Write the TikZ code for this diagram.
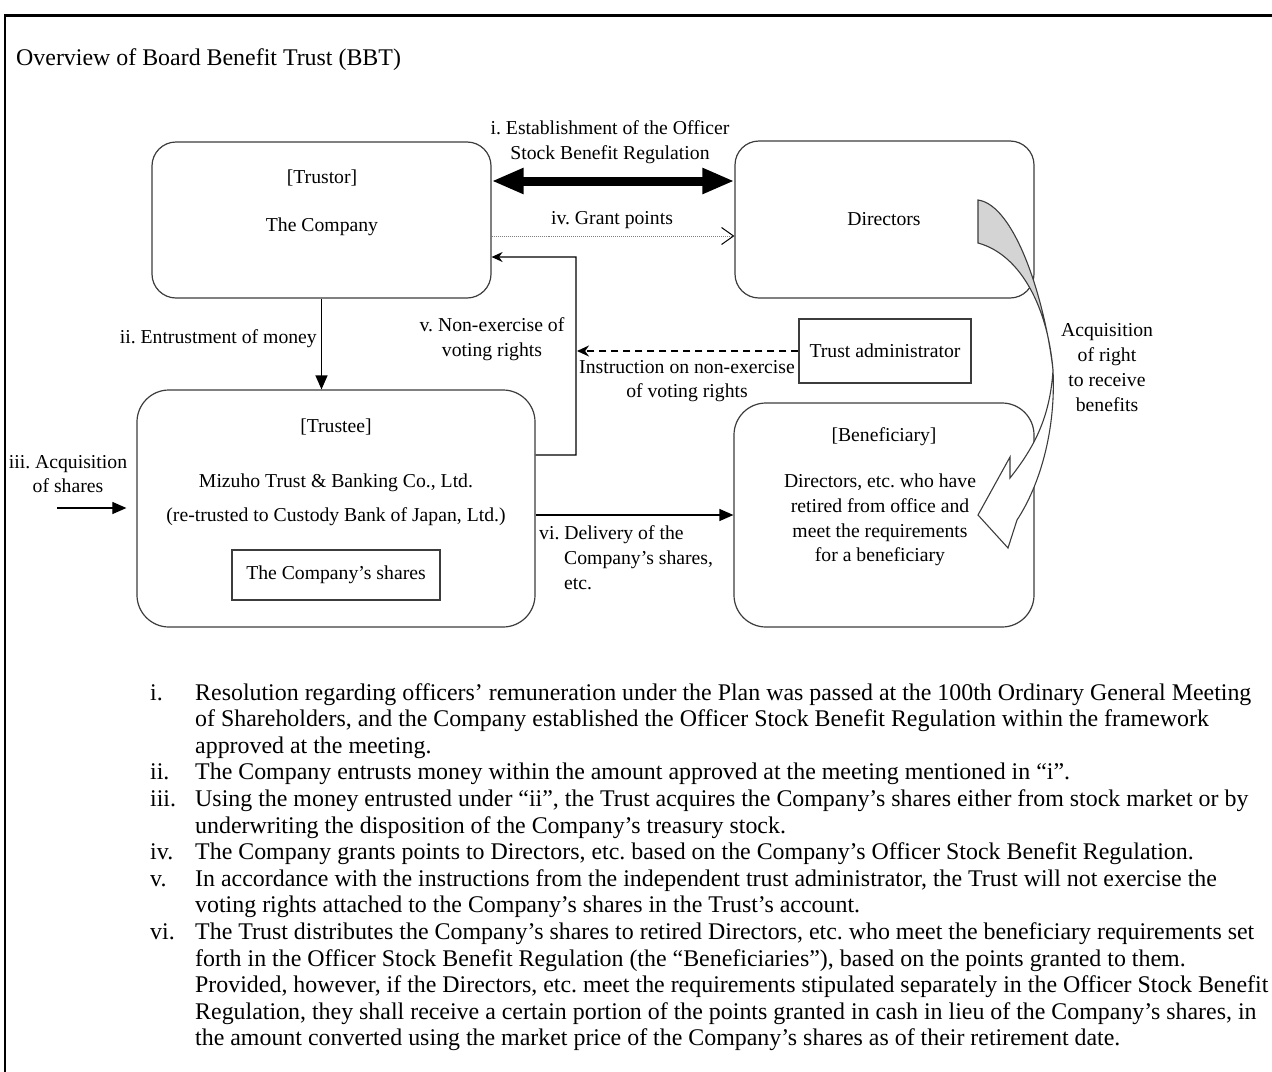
\documentclass[tikz,border=0pt]{standalone}
\usepackage{fontspec}
\setmainfont{Liberation Serif}
\usetikzlibrary{arrows.meta, positioning, calc}
\frenchspacing
\definecolor{boxgray}{RGB}{60,60,60}
\definecolor{ribbon}{RGB}{212,212,212}
\newcommand{\diagfont}{\fontsize{19.7bp}{24.8bp}\selectfont}
\newcommand{\notefont}{\fontsize{23.9bp}{26.6bp}\selectfont}
\tikzset{
  party/.style={rectangle, draw=boxgray, rounded corners=24bp, line width=1.2bp},
  plainbox/.style={rectangle, draw=boxgray, line width=1.2bp, font=\diagfont},
  txt/.style={font=\diagfont, align=center, inner sep=0pt},
  arrow/.style={-{Triangle[length=14bp,width=12bp]}, line width=1.2bp},
  thinarrow/.style={-{Stealth[length=11bp,width=10bp]}, line width=1.2bp}
}

\begin{document}
\begin{tikzpicture}[x=1bp, y=-1bp]
  \useasboundingbox (0,0) rectangle (1272,1072);
  % frame and heading
  \draw[line width=2.2bp] (5,1072) -- (5,15.5) -- (1272,15.5);
  \node[anchor=base west, font=\notefont, inner sep=0pt] (title) at (16,65) {Overview of Board Benefit Trust (BBT)};

  % Trustor
  \node[party, minimum width=339bp, minimum height=156bp] (trustor) at (321.5,220) {};
  \node[txt] (trustorhd) at (322,178) {[Trustor]};
  \node[txt] (trustornm) at (322,227) {The Company};

  % Directors
  \node[party, minimum width=299bp, minimum height=157bp] (directors) at (884.5,219.5) {};
  \node[txt] (directorsnm) at (884,219) {Directors};

  % Trustee
  \node[party, rounded corners=32bp, minimum width=398bp, minimum height=237bp] (trustee) at (336,508.5) {};
  \node[txt] (trusteehd) at (336,427) {[Trustee]};
  \node[txt] (trusteenm) at (336,483) {Mizuho Trust \& Banking Co., Ltd.};
  \node[txt] (trusteesub) at (336,517) {(re-trusted to Custody Bank of Japan, Ltd.)};
  \node[plainbox, minimum width=208bp, minimum height=50bp] (shares) at (336,575) {The Company’s shares};

  % Beneficiary
  \node[party, rounded corners=32bp, minimum width=300bp, minimum height=224bp] (benef) at (884,515) {};
  \node[txt] (benefhd) at (884,437) {[Beneficiary]};
  \node[txt] (benefnm) at (880,520) {Directors, etc. who have\\retired from office and\\meet the requirements\\for a beneficiary};

  % Trust administrator
  \node[plainbox, minimum width=172bp, minimum height=64bp] (admin) at (885,351) {Trust administrator};

  \coordinate (vturn) at (576,257);
  \coordinate (vin) at (577,351);
  \coordinate (buyin) at (57,508);

  % i. regulation
  \draw[line width=9bp, {Triangle[length=32bp,width=24bp]}-{Triangle[length=32bp,width=24bp]}]
    ([yshift=39bp]trustor.east) -- ([yshift=38.5bp]directors.west);
  \node[txt] (regtxt) at (610,142) {i. Establishment of the Officer\\Stock Benefit Regulation};

  % iv. points
  \draw[densely dotted, gray, line width=1bp, -{Straight Barb[length=12bp,width=17bp,line width=1bp,black]}]
    ([yshift=-16bp]trustor.east) -- ([yshift=-16.5bp]directors.west);
  \node[txt] (pointstxt) at (612,220) {iv. Grant points};

  % ii. money
  \draw[arrow] (trustor.south) -- (trustor.south |- trustee.north);
  \node[txt, anchor=east] (moneytxt) at (317,339) {ii. Entrustment of money};

  % v. voting rights
  \draw[thinarrow] ([yshift=53.5bp]trustee.east) -| (vturn) -- ([yshift=-37bp]trustor.east);
  \node[txt] (votetxt) at (492,339) {v. Non-exercise of\\voting rights};
  \draw[dash pattern=on 7bp off 5bp, line width=1.2bp, -{Stealth[length=12bp,width=11bp]}] (admin.west) -- (vin);
  \node[txt] (instrtxt) at (687,381) {Instruction on non-exercise\\of voting rights};

  % iii. shares bought in
  \draw[arrow, shorten >=10bp] (buyin) -- (buyin -| trustee.west);
  \node[txt] (buytxt) at (68,474) {iii. Acquisition\\of shares};

  % vi. delivery
  \draw[arrow] ([yshift=-6.5bp]trustee.east) -- ([yshift=-6.5bp]trustee.east -| benef.west);
  \node[txt, anchor=base west, align=left] (delivtxt) at (539,589)
    {vi. Delivery of the\\\hspace*{25bp}Company’s shares,\\\hspace*{25bp}etc.};

  % ribbon arrow, back face then front face
  \draw[boxgray, line width=1.1bp, fill=ribbon]
    (978,200) .. controls (1015,205) and (1045,300) .. (1053,370)
    .. controls (1048,310) and (1022,255) .. (978,243) -- cycle;
  \draw[boxgray, line width=1.1bp, fill=white]
    (1053,370) .. controls (1056,430) and (1040,485) .. (1017,520)
    -- (1008,548) -- (978,515) -- (1010,457) -- (1010,478)
    .. controls (1032,450) and (1050,420) .. (1053,370) -- cycle;
  \node[txt] (righttxt) at (1107,367.5) {Acquisition\\of right\\to receive\\benefits};

  % notes
  \node[anchor=base west, inner sep=0pt, font=\notefont] (notes) at (150,700) {%
    \begin{tabular}[t]{@{}p{45bp}@{}l@{}}
    i.   & Resolution regarding officers’ remuneration under the Plan was passed at the 100th Ordinary General Meeting\\
         & of Shareholders, and the Company established the Officer Stock Benefit Regulation within the framework\\
         & approved at the meeting.\\
    ii.  & The Company entrusts money within the amount approved at the meeting mentioned in “i”.\\
    iii. & Using the money entrusted under “ii”, the Trust acquires the Company’s shares either from stock market or by\\
         & underwriting the disposition of the Company’s treasury stock.\\
    iv.  & The Company grants points to Directors, etc. based on the Company’s Officer Stock Benefit Regulation.\\
    v.   & In accordance with the instructions from the independent trust administrator, the Trust will not exercise the\\
         & voting rights attached to the Company’s shares in the Trust’s account.\\
    vi.  & The Trust distributes the Company’s shares to retired Directors, etc. who meet the beneficiary requirements set\\
         & forth in the Officer Stock Benefit Regulation (the “Beneficiaries”), based on the points granted to them.\\
         & Provided, however, if the Directors, etc. meet the requirements stipulated separately in the Officer Stock Benefit\\
         & Regulation, they shall receive a certain portion of the points granted in cash in lieu of the Company’s shares, in\\
         & the amount converted using the market price of the Company’s shares as of their retirement date.
    \end{tabular}};
\end{tikzpicture}
\end{document}
